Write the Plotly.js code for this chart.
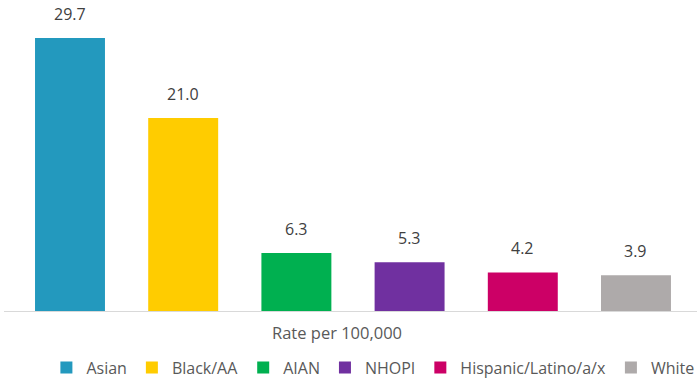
<!DOCTYPE html>
<html>
<head>
<meta charset="utf-8">
<script src="https://cdn.plot.ly/plotly-3.0.1.min.js"></script>
<style>
  html, body { margin: 0; padding: 0; background: #fff; }
  #chart { width: 697px; height: 379px; }
</style>
</head>
<body>
<div id="chart"></div>
<script>
// Rate per 100,000 by race/ethnicity
const groups = ["Asian", "Black/AA", "AIAN", "NHOPI", "Hispanic/Latino/a/x", "White"];
const rates = [29.7, 21.0, 6.3, 5.3, 4.2, 3.9];
const barColors = ["#2399BE", "#FFCC00", "#00B050", "#7030A0", "#CC0066", "#AEAAAA"];
const axisTitle = "Rate per 100,000";

const FONT = "Open Sans, Noto Sans, sans-serif";

// one trace per group so each gets its own legend entry
const traces = groups.map((g, i) => ({
  type: "bar",
  name: g,
  x: [g],
  y: [rates[i]],
  marker: { color: barColors[i] },
  hoverinfo: "x+y"
}));

// value labels above each bar
const labels = groups.map((g, i) => ({
  x: g,
  y: rates[i],
  xref: "x",
  yref: "y",
  text: rates[i].toFixed(1),
  showarrow: false,
  yanchor: "bottom",
  yshift: 11,
  font: { family: FONT, size: 16, color: "#404040" }
}));

// axis caption under the baseline, slightly left of the plot centre
labels.push({
  x: 0.4805,
  y: 0,
  xref: "paper",
  yref: "paper",
  text: axisTitle,
  showarrow: false,
  xanchor: "center",
  yanchor: "middle",
  yshift: -21,
  font: { family: FONT, size: 16.5, color: "#595959" }
});

const layout = {
  width: 697,
  height: 379,
  margin: { l: 4, r: 0, t: 10, b: 68, autoexpand: false },
  paper_bgcolor: "#fff",
  plot_bgcolor: "#fff",
  barmode: "overlay",
  bargap: 0.382,
  showlegend: true,
  legend: {
    orientation: "h",
    xref: "container",
    yref: "container",
    x: 0.535,
    xanchor: "center",
    y: 0.03,
    yanchor: "middle",
    font: { family: FONT, size: 16, color: "#595959" },
    traceorder: "normal",
    itemwidth: 30
  },
  xaxis: {
    type: "category",
    categoryorder: "array",
    categoryarray: groups,
    range: [-0.583, 5.539],
    showticklabels: false,
    ticks: "",
    showgrid: false,
    showline: true,
    linecolor: "#D9D9D9",
    linewidth: 1,
    zeroline: false,
    fixedrange: true
  },
  yaxis: {
    range: [0, 32.75],
    visible: false,
    showgrid: false,
    zeroline: false,
    fixedrange: true
  },
  annotations: labels
};

Plotly.newPlot("chart", traces, layout, { displayModeBar: false, staticPlot: true });
</script>
</body>
</html>
